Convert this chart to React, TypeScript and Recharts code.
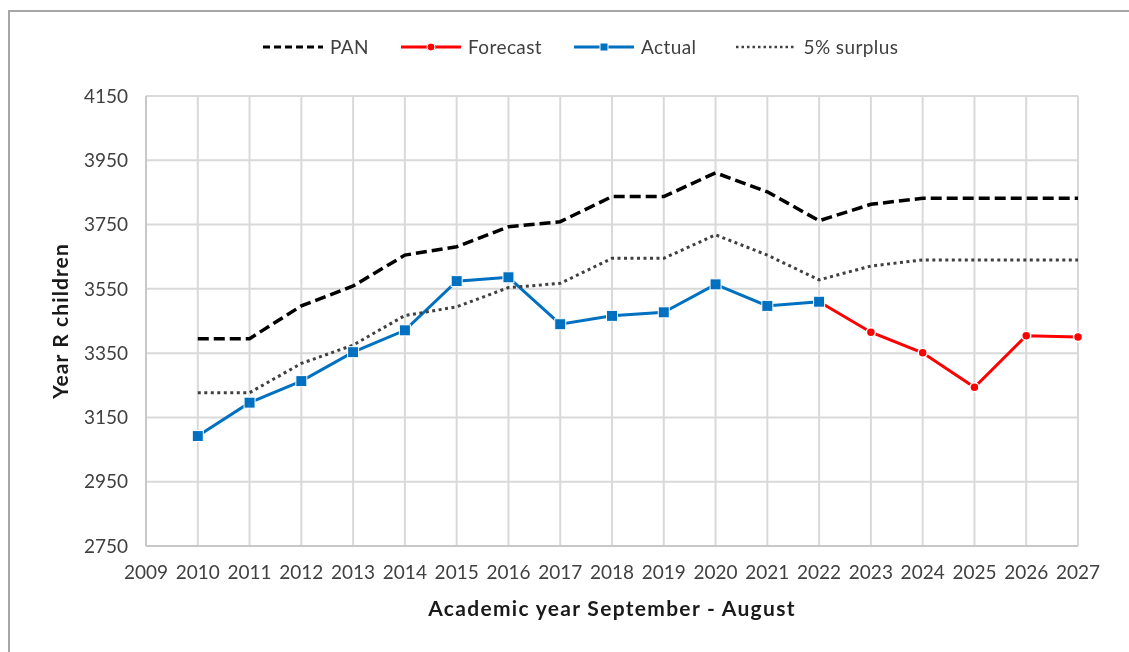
import { LineChart, Line, XAxis, YAxis, CartesianGrid, Legend } from 'recharts';

const years = [2009, 2010, 2011, 2012, 2013, 2014, 2015, 2016, 2017, 2018, 2019, 2020, 2021, 2022, 2023, 2024, 2025, 2026, 2027];
const yTicks = [2750, 2950, 3150, 3350, 3550, 3750, 3950, 4150];

const pan = [null, 3395, 3395, 3497, 3559, 3655, 3681, 3743, 3759, 3837, 3837, 3911, 3852, 3762, 3813, 3832, 3832, 3832, 3832];
const forecast = [null, null, null, null, null, null, null, null, null, null, null, null, null, 3510, 3415, 3351, 3244, 3404, 3400];
const actual = [null, 3092, 3196, 3263, 3353, 3421, 3574, 3586, 3440, 3466, 3477, 3564, 3497, 3510, null, null, null, null, null];
const surplus = [null, 3227, 3227, 3318, 3375, 3467, 3494, 3554, 3567, 3645, 3645, 3718, 3655, 3578, 3621, 3640, 3640, 3640, 3640];

const data = years.map((year, i) => ({
  year,
  pan: pan[i],
  forecast: forecast[i],
  actual: actual[i],
  surplus: surplus[i],
}));

const FONT = 'Lato, "Liberation Sans", sans-serif';
const BLUE = '#0070C0';
const RED = '#FF0000';
const GRID = '#d9d9d9';

const SquareDot = (props: any) => {
  const { cx, cy, index } = props;
  if (cx == null || cy == null) return <g key={`sq-${index}`} />;
  return (
    <rect
      key={`sq-${index}`}
      x={cx - 5.5}
      y={cy - 5.5}
      width={11}
      height={11}
      fill={BLUE}
      stroke='#fff'
      strokeWidth={1}
    />
  );
};

const legendItems = [
  { name: 'PAN', color: '#000', dash: '7 4', width: 3, marker: 'none', gap: 32 },
  { name: 'Forecast', color: RED, dash: undefined, width: 3, marker: 'circle', gap: 32 },
  { name: 'Actual', color: BLUE, dash: undefined, width: 3, marker: 'square', gap: 40 },
  { name: '5% surplus', color: '#404040', dash: '2.5 3', width: 2.5, marker: 'none', gap: 0 },
];

function ChartLegend() {
  return (
    <div
      style={{
        display: 'flex',
        alignItems: 'center',
        marginLeft: 253,
        fontFamily: FONT,
        fontSize: 19,
        letterSpacing: 0.4,
        color: '#404040',
      }}
    >
      {legendItems.map((item) => (
        <div key={item.name} style={{ display: 'flex', alignItems: 'center', marginRight: item.gap }}>
          <svg width={60} height={14} style={{ marginRight: 7 }}>
            <line x1={0} y1={7} x2={60} y2={7} stroke={item.color} strokeWidth={item.width} strokeDasharray={item.dash} />
            {item.marker === 'circle' && <circle cx={30} cy={7} r={4} fill={item.color} stroke='#fff' strokeWidth={1} />}
            {item.marker === 'square' && <rect x={26} y={3} width={8} height={8} fill={item.color} stroke='#fff' strokeWidth={1} />}
          </svg>
          <span>{item.name}</span>
        </div>
      ))}
    </div>
  );
}

export default function App() {
  return (
    <div style={{ paddingTop: 4, height: 630, boxSizing: 'border-box' }}>
      {/* frame of the original chart object, cut by the page edges */}
      <div
        style={{
          position: 'fixed',
          left: 8,
          top: 10,
          width: 1200,
          height: 700,
          borderTop: '2px solid #a6a6a6',
          borderLeft: '2px solid #a6a6a6',
          pointerEvents: 'none',
        }}
      />
      <div style={{ marginLeft: 2 }}>
        <LineChart width={1110} height={620} data={data} margin={{ top: 84, right: 42, bottom: 0, left: 0 }}>
          <CartesianGrid stroke={GRID} strokeWidth={2} />
          <XAxis
            dataKey='year'
            type='number'
            domain={[2009, 2027]}
            ticks={years}
            interval={0}
            height={86}
            tickLine={false}
            tickMargin={14}
            axisLine={{ stroke: '#c8c8c8', strokeWidth: 2 }}
            tick={{ fontSize: 19, fill: '#404040', fontFamily: FONT }}
            label={{
              value: 'Academic year September - August',
              position: 'center',
              dy: 20,
              style: { fontSize: 21, fontWeight: 'bold', fill: '#1a1a1a', fontFamily: FONT, letterSpacing: 1.3 },
            }}
          />
          <YAxis
            type='number'
            domain={[2750, 4150]}
            ticks={yTicks}
            interval={0}
            width={136}
            tickLine={false}
            tickMargin={12}
            axisLine={{ stroke: '#c8c8c8', strokeWidth: 2 }}
            tick={{ fontSize: 19, fill: '#404040', fontFamily: FONT }}
            label={{
              value: 'Year R children',
              angle: -90,
              position: 'center',
              dx: -17,
              style: { fontSize: 21, fontWeight: 'bold', fill: '#1a1a1a', fontFamily: FONT, letterSpacing: 1.1 },
            }}
          />
          <Legend
            verticalAlign='middle'
            align='center'
            wrapperStyle={{ top: 23, left: 0, width: 1110 }}
            content={() => <ChartLegend />}
          />
          <Line
            dataKey='pan'
            name='PAN'
            stroke='#000'
            strokeWidth={3.5}
            strokeDasharray='11 5'
            dot={false}
            activeDot={false}
            isAnimationActive={false}
          />
          <Line
            dataKey='forecast'
            name='Forecast'
            stroke={RED}
            strokeWidth={3}
            dot={{ r: 4.5, fill: RED, stroke: '#fff', strokeWidth: 1.5 }}
            activeDot={false}
            isAnimationActive={false}
          />
          <Line
            dataKey='actual'
            name='Actual'
            stroke={BLUE}
            strokeWidth={3}
            dot={SquareDot}
            activeDot={false}
            isAnimationActive={false}
          />
          <Line
            dataKey='surplus'
            name='5% surplus'
            stroke='#404040'
            strokeWidth={3}
            strokeDasharray='3 3.5'
            dot={false}
            activeDot={false}
            isAnimationActive={false}
          />
        </LineChart>
      </div>
    </div>
  );
}
